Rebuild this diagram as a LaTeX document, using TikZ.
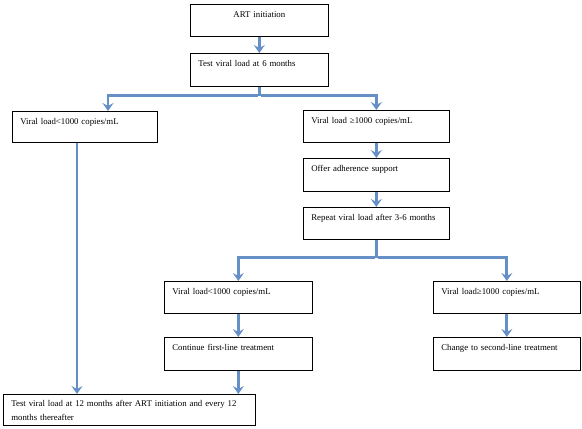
\documentclass[tikz,border=0pt]{standalone}
\usepackage{fontspec}
\setmainfont{Liberation Serif}
\usetikzlibrary{arrows.meta}
\definecolor{flowblue}{RGB}{100,144,198}
\tikzset{
	box/.style={draw, line width=0.7pt, anchor=north west, inner xsep=8pt, inner ysep=0pt,
		align=left, text width=#1, text height=13pt, text depth=19pt,
		font=\fontsize{8.8}{14}\selectfont},
	flow/.style={draw=flowblue, line width=2.8pt, -{Stealth[length=8pt,width=11pt,inset=3pt]}},
	link/.style={draw=flowblue, line width=2.8pt}
}

\begin{document}
\begin{tikzpicture}[x=1pt, y=-1pt]
			%%%%% START %%%%%
			\useasboundingbox (0,0) rectangle (582,429);
			
			\node[box=122pt, align=center] (art) at (190, 4) {ART initiation};
			\node[box=122pt, text depth=20pt] (test6) at (190, 53) {Test viral load at 6 months};
			
			\node[box=129pt, text depth=18pt] (vlow) at (12, 111) {Viral load<1000 copies/mL};
			\node[box=130pt, text depth=19pt] (vhigh) at (303, 110) {Viral load ≥1000 copies/mL};
			\node[box=130pt, text depth=20pt] (adhere) at (303, 158) {Offer adherence support};
			\node[box=130pt] (repeat) at (303, 207) {Repeat viral load after 3-6 months};
			
			\node[box=132pt] (vlow2) at (164, 281) {Viral load<1000 copies/mL};
			\node[box=131pt] (vhigh2) at (433, 281) {Viral load≥1000 copies/mL};
			\node[box=132pt, text depth=20pt] (cont) at (164, 337) {Continue first-line treatment};
			\node[box=131pt, text depth=20pt] (change) at (433, 337) {Change to second-line treatment};
			
			\node[box=236pt, text height=12pt] (final) at (3, 394) {Test viral load at 12 months after ART initiation and every 12 months thereafter};
			
			% arrows
			\draw[flow] (art) -- (test6);
			\draw[link] (test6.south) -- ++(0,9) coordinate (split1);
			\draw[flow] ([xshift=-1.4pt]split1) -| ([xshift=96pt]vlow.north west);
			\draw[flow] ([xshift=1.4pt]split1) -| (vhigh.north);
			\draw[flow] (vhigh) -- (adhere);
			\draw[flow] (adhere) -- (repeat);
			\draw[link] (repeat.south) -- ++(0,18) coordinate (split2);
			\draw[flow] ([xshift=-1.4pt]split2) -| (vlow2.north);
			\draw[flow] ([xshift=1.4pt]split2) -| (vhigh2.north);
			\draw[flow] (vlow2) -- (cont);
			\draw[flow] (vhigh2) -- (change);
			\draw[flow] (cont.south) -- (cont.south |- final.north);
			\draw[flow] ([xshift=65pt]vlow.south west) -- ([xshift=65pt]vlow.south west |- final.north);
			
			%%%%% END %%%%%
\end{tikzpicture}
\end{document}
